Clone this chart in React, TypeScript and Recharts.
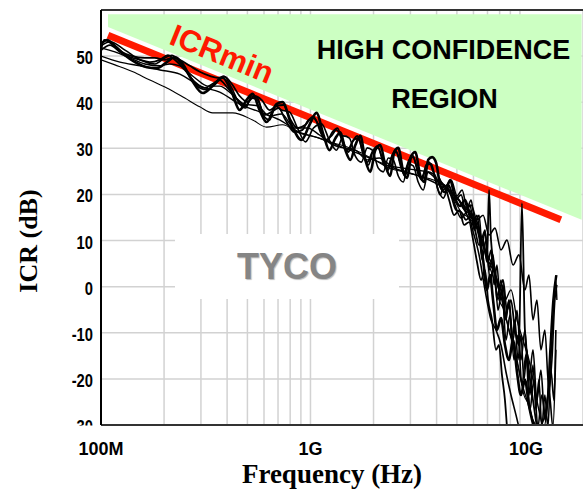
import React from "react";
import {
  ComposedChart,
  Line,
  Area,
  XAxis,
  YAxis,
  CartesianGrid,
  ReferenceLine,
} from "recharts";

// frequency in MHz, ICR in dB
const traceA = [
  [100, 52.6], [106.8, 53.5], [116.6, 52.2], [130.1, 50.2], [145.3, 48.7], [165.6, 47.6],
  [184.8, 47.4], [206.2, 48.7], [225.1, 49.8], [245.7, 48.3], [271.3, 44.8], [306, 42.0],
  [341.3, 43.5], [381, 45.3], [420.6, 42.2], [459.1, 38.3], [495.8, 40.5], [529.4, 41.8],
  [571.7, 38.3], [617.3, 35.7], [688.9, 39.6], [735.5, 40.05], [811.9, 35.1], [906, 31.8],
  [989, 35.1], [1068, 37.7], [1154, 32.9], [1231, 29.6], [1315, 32.2], [1390, 33.5],
  [1468, 29.6], [1551, 27.5], [1638, 30.7], [1730, 32.7], [1827, 27.5], [1931, 24.9],
  [2039, 29.6], [2154, 30.7], [2275, 26.4], [2404, 24.0], [2512, 29.2], [2625, 30.1],
  [2774, 24.9], [2898, 23.6], [3027, 28.3], [3162, 29.2], [3340, 24.2], [3490, 22.7],
  [3647, 27.5], [3810, 28.1], [3982, 26.8], [4160, 22.05], [4393, 20.5], [4642, 23.1],
  [4902, 19.2], [5180, 17.5], [5470, 18.8], [5780, 15.5], [6104, 14.0], [6380, 11.2],
  [6669, 5.8], [6966, -0.7], [7197, 2.5], [7442, -2.9], [7767, -9.4], [8119, -6.8],
  [8481, -12.65], [8864, -15.9], [9267, -11.6], [9679, -18.5], [10110, -23.5], [10560, -20.2],
  [11040, -25.7], [11660, -30.5],
];

const traceB = [
  [100, 51.3], [110.4, 52.4], [123.1, 50.9], [137.5, 49.8], [153.4, 49.2], [171.1, 48.7],
  [191, 49.2], [208.5, 50.2], [225.1, 49.2], [251.2, 47.0], [280.4, 44.4], [312.9, 43.1],
  [341.3, 44.0], [368.7, 44.8], [402.3, 43.1], [448.9, 40.5], [490.2, 39.2], [523.7, 40.9],
  [559, 40.5], [604, 37.2], [652.1, 37.9], [704.2, 38.75], [760, 36.15], [839.2, 33.5],
  [915.9, 34.0], [978.5, 36.15], [1045, 36.6], [1116, 33.5], [1192, 31.4], [1272, 33.5],
  [1345, 34.4], [1437, 30.7], [1518, 29.2], [1604, 31.8], [1693, 32.2], [1789, 28.55],
  [1889, 26.4], [1997, 29.6], [2108, 30.1], [2227, 26.8], [2352, 25.3], [2457, 28.55],
  [2567, 29.2], [2713, 25.7], [2833, 24.0], [2961, 27.5], [3096, 28.1], [3268, 24.4],
  [3413, 23.1], [3567, 26.4], [3769, 26.6], [3937, 23.6], [4160, 19.9], [4347, 22.05],
  [4591, 18.8], [4851, 15.5], [5124, 16.6], [5413, 13.4], [5717, 14.0], [5977, 10.1],
  [6238, 5.35], [6521, 1.45], [6811, 3.6], [7042, -2.9], [7355, -7.2], [7686, -13.7],
  [7944, -12.65], [8208, -19.2], [8481, -24.6], [8673, -30.5],
];

const traceC = [
  [100, 50.9], [103.4, 53.5], [112.8, 52.6], [125.9, 50.9], [140.5, 50.0], [162.1, 49.6],
  [180.8, 49.6], [201.8, 49.2], [217.8, 49.6], [237.8, 49.2], [265.4, 47.9], [296.1, 46.6],
  [330.4, 45.7], [360.5, 45.3], [389.6, 45.5], [420.6, 44.0], [459.1, 41.35], [501.3, 40.05],
  [541.3, 41.35], [584.4, 40.5], [638, 38.3], [688.9, 39.2], [744.2, 39.4], [794.4, 36.6],
  [866.7, 34.4], [946.4, 35.1], [1022, 36.8], [1092, 35.1], [1178, 31.8], [1259, 32.7],
  [1330, 34.0], [1421, 31.8], [1501, 29.6], [1585, 31.4], [1675, 32.7], [1768, 29.6],
  [1867, 27.0], [1973, 29.2], [2083, 30.5], [2201, 27.9], [2325, 25.7], [2430, 27.9],
  [2539, 29.6], [2683, 27.0], [2804, 24.9], [2930, 27.0], [3060, 28.55], [3230, 25.7],
  [3377, 23.6], [3527, 25.3], [3687, 27.0], [3855, 24.9], [4070, 22.7], [4252, 20.96],
  [4493, 21.4], [4693, 19.7], [4958, 16.6], [5237, 16.2], [5532, 14.5], [5844, 15.5],
  [6104, 12.3], [6380, 9.0], [6669, 10.1], [6966, 5.35], [7119, 20.96], [7276, 10.1],
  [7600, 3.6], [7944, -0.7], [8304, 1.45], [8673, -5.1], [9061, -2.9], [9464, -9.4],
  [9891, -12.65], [10220, 18.1], [10560, -9.4], [11040, -18.1], [11540, -24.6], [12050, -30.5],
];

const traceD = [
  [100, 49.2], [116.6, 48.1], [142.1, 46.6], [171.1, 44.8], [206.2, 43.1], [251.2, 40.9],
  [296.1, 39.0], [341.3, 37.7], [425.2, 37.7], [529.4, 36.15], [617.3, 34.6], [735.5, 35.1],
  [886.5, 33.3], [1045, 32.5], [1231, 31.4], [1453, 30.5], [1711, 29.2], [2018, 27.5],
  [2378, 25.7], [2804, 24.9], [3304, 24.0], [3896, 23.1], [4347, 21.8], [4851, 18.8],
  [5237, 16.2], [5717, 14.9], [6238, 12.7], [6740, 9.0], [7119, 4.7], [7521, 1.45],
  [7944, -2.9], [8392, -5.1], [8864, -9.4], [9365, -13.7], [9891, -18.1], [10450, -23.5],
  [11040, -25.7], [11660, -30.5],
];

const traceE = [
  [100, 51.8], [116.6, 50.9], [137.5, 49.6], [162.1, 48.3], [191, 47.9], [213, 48.3],
  [237.8, 47.9], [280.4, 45.3], [323, 43.5], [368.7, 43.5], [420.6, 41.8], [485.1, 39.6],
  [559, 39.2], [638, 37.0], [727.6, 37.45], [839.2, 34.4], [967, 34.4], [1104, 32.9],
  [1259, 30.9], [1437, 30.1], [1638, 29.6], [1867, 27.5], [2131, 27.9], [2430, 26.2],
  [2774, 25.7], [3162, 25.3], [3607, 24.9], [4115, 22.7], [4693, 20.5], [5356, 17.7],
  [5977, 15.5], [6521, 10.1], [6966, 6.2], [7442, 3.6], [7944, 0.4], [8481, -2.9],
  [9061, -0.7], [9679, -7.2], [10340, -11.6], [11040, -15.9], [11790, -22.4], [12310, -26.75],
  [13010, -30.5], [13600, -24.6], [14050, -15.9], [14530, -2.9], [14840, 1.45], [15010, -2.9],
];

const traceF = [
  [100, 50.0], [123.1, 48.7], [153.4, 47.9], [191, 47.0], [237.8, 46.1], [296.1, 43.5],
  [368.7, 42.2], [459.1, 39.6], [571.7, 37.9], [711.9, 36.15], [886.5, 33.5], [1104, 32.2],
  [1375, 30.5], [1711, 28.8], [2131, 27.0], [2654, 25.3], [3304, 24.0], [4115, 22.05],
  [4851, 19.9], [5594, 16.6], [6238, 14.0], [6811, 7.95], [7276, 5.35], [7767, 1.45],
  [8304, -4.0], [8864, -9.4], [9464, -13.7], [10110, -20.2], [10800, -24.6], [11540, -28.9],
  [12310, -30.5], [13150, -27.8], [13750, -20.2], [14210, -9.4], [14680, -0.7], [15010, 2.5],
];

const traceG = [
  [4115, 23.1], [4591, 20.96], [5124, 18.8], [5594, 15.5], [5977, 13.4], [6238, 15.5],
  [6521, 10.1], [6811, 12.3], [7119, 3.6], [7442, 6.9], [7767, -2.9], [8119, 1.45],
  [8481, -7.2], [8864, -2.9], [9267, -11.6], [9679, -5.1], [10110, -15.9], [10560, -9.4],
  [11040, -20.2], [11540, -13.7], [12050, -24.6], [12590, -18.1], [13150, -28.9], [13750, -22.4],
  [14370, -30.5], [14840, -13.7],
];

const traceH = [
  [4115, 23.6], [4393, 21.8], [4693, 23.1], [5010, 19.7], [5294, 20.96], [5594, 17.05],
  [5844, 18.8], [6104, 14.0], [6380, 15.5], [6592, 9.0], [6811, 11.9], [7042, 5.35],
  [7276, 7.95], [7521, 0.4], [7767, 4.7], [8031, -2.9], [8304, 0.4], [8577, -7.2],
  [8864, -2.9], [9159, -11.6], [9464, -7.2], [9785, -15.9], [10110, -10.5], [10450, -20.2],
  [10800, -13.7], [11160, -23.5], [11540, -17.0], [11920, -26.75], [12310, -20.2], [12720, -30.5],
  [13150, -23.5], [13600, -30.5], [14050, -18.1], [14530, -24.6], [14840, -9.4],
];

const traceI = [
  [4591, 22.05], [4902, 18.8], [5237, 19.9], [5532, 16.2], [5780, 17.7], [6040, 12.3],
  [6311, 14.0], [6592, 5.8], [6889, 10.1], [7197, 1.45], [7521, 4.7], [7858, -5.1],
  [8208, -0.7], [8577, -11.6], [8962, -6.15], [9365, -15.9], [9785, -10.5], [10220, -21.3],
  [10680, -14.8], [11160, -26.75], [11660, -20.2], [12180, -30.5], [12720, -23.5], [13300, -28.9],
  [13900, -13.7], [14370, -2.9], [14840, 2.5],
];

const traceJ = [
  [5124, 18.8], [5470, 16.6], [5844, 17.7], [6238, 14.5], [6669, 15.5], [7119, 11.2],
  [7600, 12.7], [8119, 7.95], [8673, 10.1], [9267, 4.7], [9891, 6.9], [10560, -0.7],
  [11040, 2.5], [11540, -7.2], [12050, -2.9], [12590, -13.7], [13150, -9.4], [13750, -22.4],
  [14210, -15.9], [14680, -2.9], [15010, 0.4],
];

const traceK = [
  [100, 52.2], [110.4, 53.1], [130.1, 51.3], [153.4, 49.2], [180.8, 48.3], [201.8, 49.6],
  [217.8, 50.2], [237.8, 48.7], [265.4, 45.7], [296.1, 43.1], [323, 42.7], [352.7, 44.4],
  [385.5, 45.7], [420.6, 43.1], [459.1, 39.6], [490.2, 38.75], [523.7, 41.35], [559, 40.9],
  [597.7, 37.0], [638, 36.15], [681.1, 39.2], [727.6, 38.3], [794.4, 37.9], [866.7, 34.4],
  [946.4, 31.4], [1034, 34.4], [1128, 35.3], [1231, 31.8], [1330, 29.6], [1437, 32.7],
  [1534, 32.2], [1638, 28.3], [1749, 27.0], [1867, 30.1], [1973, 29.6], [2108, 25.7],
  [2227, 24.9], [2352, 27.9], [2486, 27.5], [2625, 24.0], [2774, 22.7], [2930, 26.6],
  [3096, 26.2], [3268, 22.7], [3454, 20.96], [3647, 24.9], [3855, 24.4], [4070, 20.96],
  [4301, 19.2], [4591, 21.8], [4902, 17.7], [5237, 14.9], [5594, 16.2], [5977, 11.9],
  [6380, 6.9], [6811, -0.7], [7276, -7.2], [7686, -9.4], [8119, -12.65], [8577, -18.5],
  [9061, -23.5], [9571, -27.8], [9891, -30.5],
];

// ICRmin limit line and the high-confidence band above it
const icrMin = [[108, 54.5], [15680, 14.5]];
const confidence = [[108, 56.3, 59.1], [19700, 14.5, 59.1]];

const freqTicks = [
  100, 200, 300, 400, 500, 600, 700, 800, 900,
  1000, 2000, 3000, 4000, 5000, 6000, 7000, 8000, 9000,
  10000, 20000,
];
const freqLabels: Record<number, string> = { 100: "100M", 1000: "1G", 10000: "10G" };
const icrTicks = [-30, -20, -10, 0, 10, 20, 30, 40, 50, 60];

const traces = [
  { key: "d", data: traceD, width: 1.1 },
  { key: "f", data: traceF, width: 1.4 },
  { key: "e", data: traceE, width: 1.4 },
  { key: "k", data: traceK, width: 1.6 },
  { key: "g", data: traceG, width: 1.6 },
  { key: "h", data: traceH, width: 1.6 },
  { key: "i", data: traceI, width: 1.6 },
  { key: "j", data: traceJ, width: 1.6 },
  { key: "b", data: traceB, width: 1.8 },
  { key: "c", data: traceC, width: 1.8 },
  { key: "a", data: traceA, width: 2.6 },
];

const toPoints = (arr: number[][]) => arr.map(([f, icr]) => ({ f, icr }));

const sans = "'Liberation Sans', Arial, sans-serif";
const serif = "'Liberation Serif', 'Times New Roman', serif";

const XTick = (props: any) => {
  const { x, y, payload } = props;
  const label = freqLabels[payload.value];
  if (!label) return null;
  const shift = payload.value === 10000 ? 6 : 0;
  return (
    <text x={x + shift} y={y + 28} textAnchor="middle" fontFamily={sans} fontWeight="bold" fontSize={18} fill="#000">
      {label}
    </text>
  );
};

const YTick = (props: any) => {
  const { x, y, payload } = props;
  if (payload.value === 60) return null;
  return (
    <g clipPath="url(#yTickClip)">
      <text
        transform={`translate(${x},${y + 8}) scale(0.82,1)`}
        textAnchor="end"
        fontFamily={sans}
        fontWeight="bold"
        fontSize={18}
        fill="#000"
      >
        {payload.value}
      </text>
    </g>
  );
};

const App: React.FC = () => {
  return (
    <div style={{ position: "absolute", left: 0, top: 0, width: 583, height: 490, background: "#fff", fontFamily: sans }}>
      <ComposedChart width={583} height={490} margin={{ top: 10, right: 0, bottom: 0, left: 0 }}>
        <defs>
          <clipPath id="yTickClip">
            <rect x={0} y={0} width={101} height={425.5} />
          </clipPath>
        </defs>
        <CartesianGrid stroke="#d2d2d2" strokeWidth={1.5} />
        <XAxis
          dataKey="f"
          type="number"
          scale="log"
          domain={[100, 20000]}
          ticks={freqTicks}
          interval={0}
          allowDataOverflow
          tickLine={false}
          tickSize={0}
          axisLine={{ stroke: "#333", strokeWidth: 2 }}
          height={65}
          tick={<XTick />}
        />
        <YAxis
          type="number"
          domain={[-30, 60]}
          ticks={icrTicks}
          interval={0}
          allowDataOverflow
          tickLine={false}
          tickSize={0}
          tickMargin={8}
          width={101}
          axisLine={{ stroke: "#000", strokeWidth: 2 }}
          tick={<YTick />}
        />
        <ReferenceLine y={60} stroke="#333" strokeWidth={2} />
        <Area
          data={confidence.map(([f, lo, hi]) => ({ f, band: [lo, hi] }))}
          dataKey="band"
          type="linear"
          fill="#ccffc2"
          fillOpacity={1}
          stroke="none"
          isAnimationActive={false}
        />
        <Line
          data={toPoints(icrMin)}
          dataKey="icr"
          type="linear"
          stroke="#ff1a00"
          strokeWidth={7}
          dot={false}
          isAnimationActive={false}
        />
        {traces.map((t) => (
          <Line
            key={t.key}
            data={toPoints(t.data)}
            dataKey="icr"
            type="monotone"
            stroke="#000"
            strokeWidth={t.width}
            strokeLinejoin="round"
            dot={false}
            isAnimationActive={false}
          />
        ))}
      </ComposedChart>

      <div style={{ position: "absolute", left: 175, top: 234, width: 224, height: 65, background: "#fff", display: "flex", alignItems: "center", justifyContent: "center" }}>
        <span style={{ fontFamily: sans, fontWeight: "bold", fontSize: 36, color: "#858585", lineHeight: 1, textShadow: "1px 1px 1px #bbb" }}>TYCO</span>
      </div>
      <div style={{ position: "absolute", left: 443.5, top: 50, transform: "translate(-50%,-50%)", fontWeight: "bold", fontSize: 27, lineHeight: 1, whiteSpace: "nowrap" }}>
        HIGH CONFIDENCE
      </div>
      <div style={{ position: "absolute", left: 444.5, top: 98.5, transform: "translate(-50%,-50%)", fontWeight: "bold", fontSize: 27, lineHeight: 1, whiteSpace: "nowrap" }}>
        REGION
      </div>
      <div style={{ position: "absolute", left: 222, top: 54, transform: "translate(-50%,-50%) rotate(22deg)", fontWeight: "bold", fontSize: 31, lineHeight: 1, color: "#ff1a00", whiteSpace: "nowrap" }}>
        ICRmin
      </div>
      <div style={{ position: "absolute", left: 28.5, top: 240.5, transform: "translate(-50%,-50%) rotate(-90deg)", fontFamily: serif, fontWeight: "bold", fontSize: 26, lineHeight: 1, whiteSpace: "nowrap" }}>
        ICR (dB)
      </div>
      <div style={{ position: "absolute", left: 332, top: 474, transform: "translate(-50%,-50%)", fontFamily: serif, fontWeight: "bold", fontSize: 27, lineHeight: 1, whiteSpace: "nowrap" }}>
        Frequency (Hz)
      </div>
    </div>
  );
};

export default App;
